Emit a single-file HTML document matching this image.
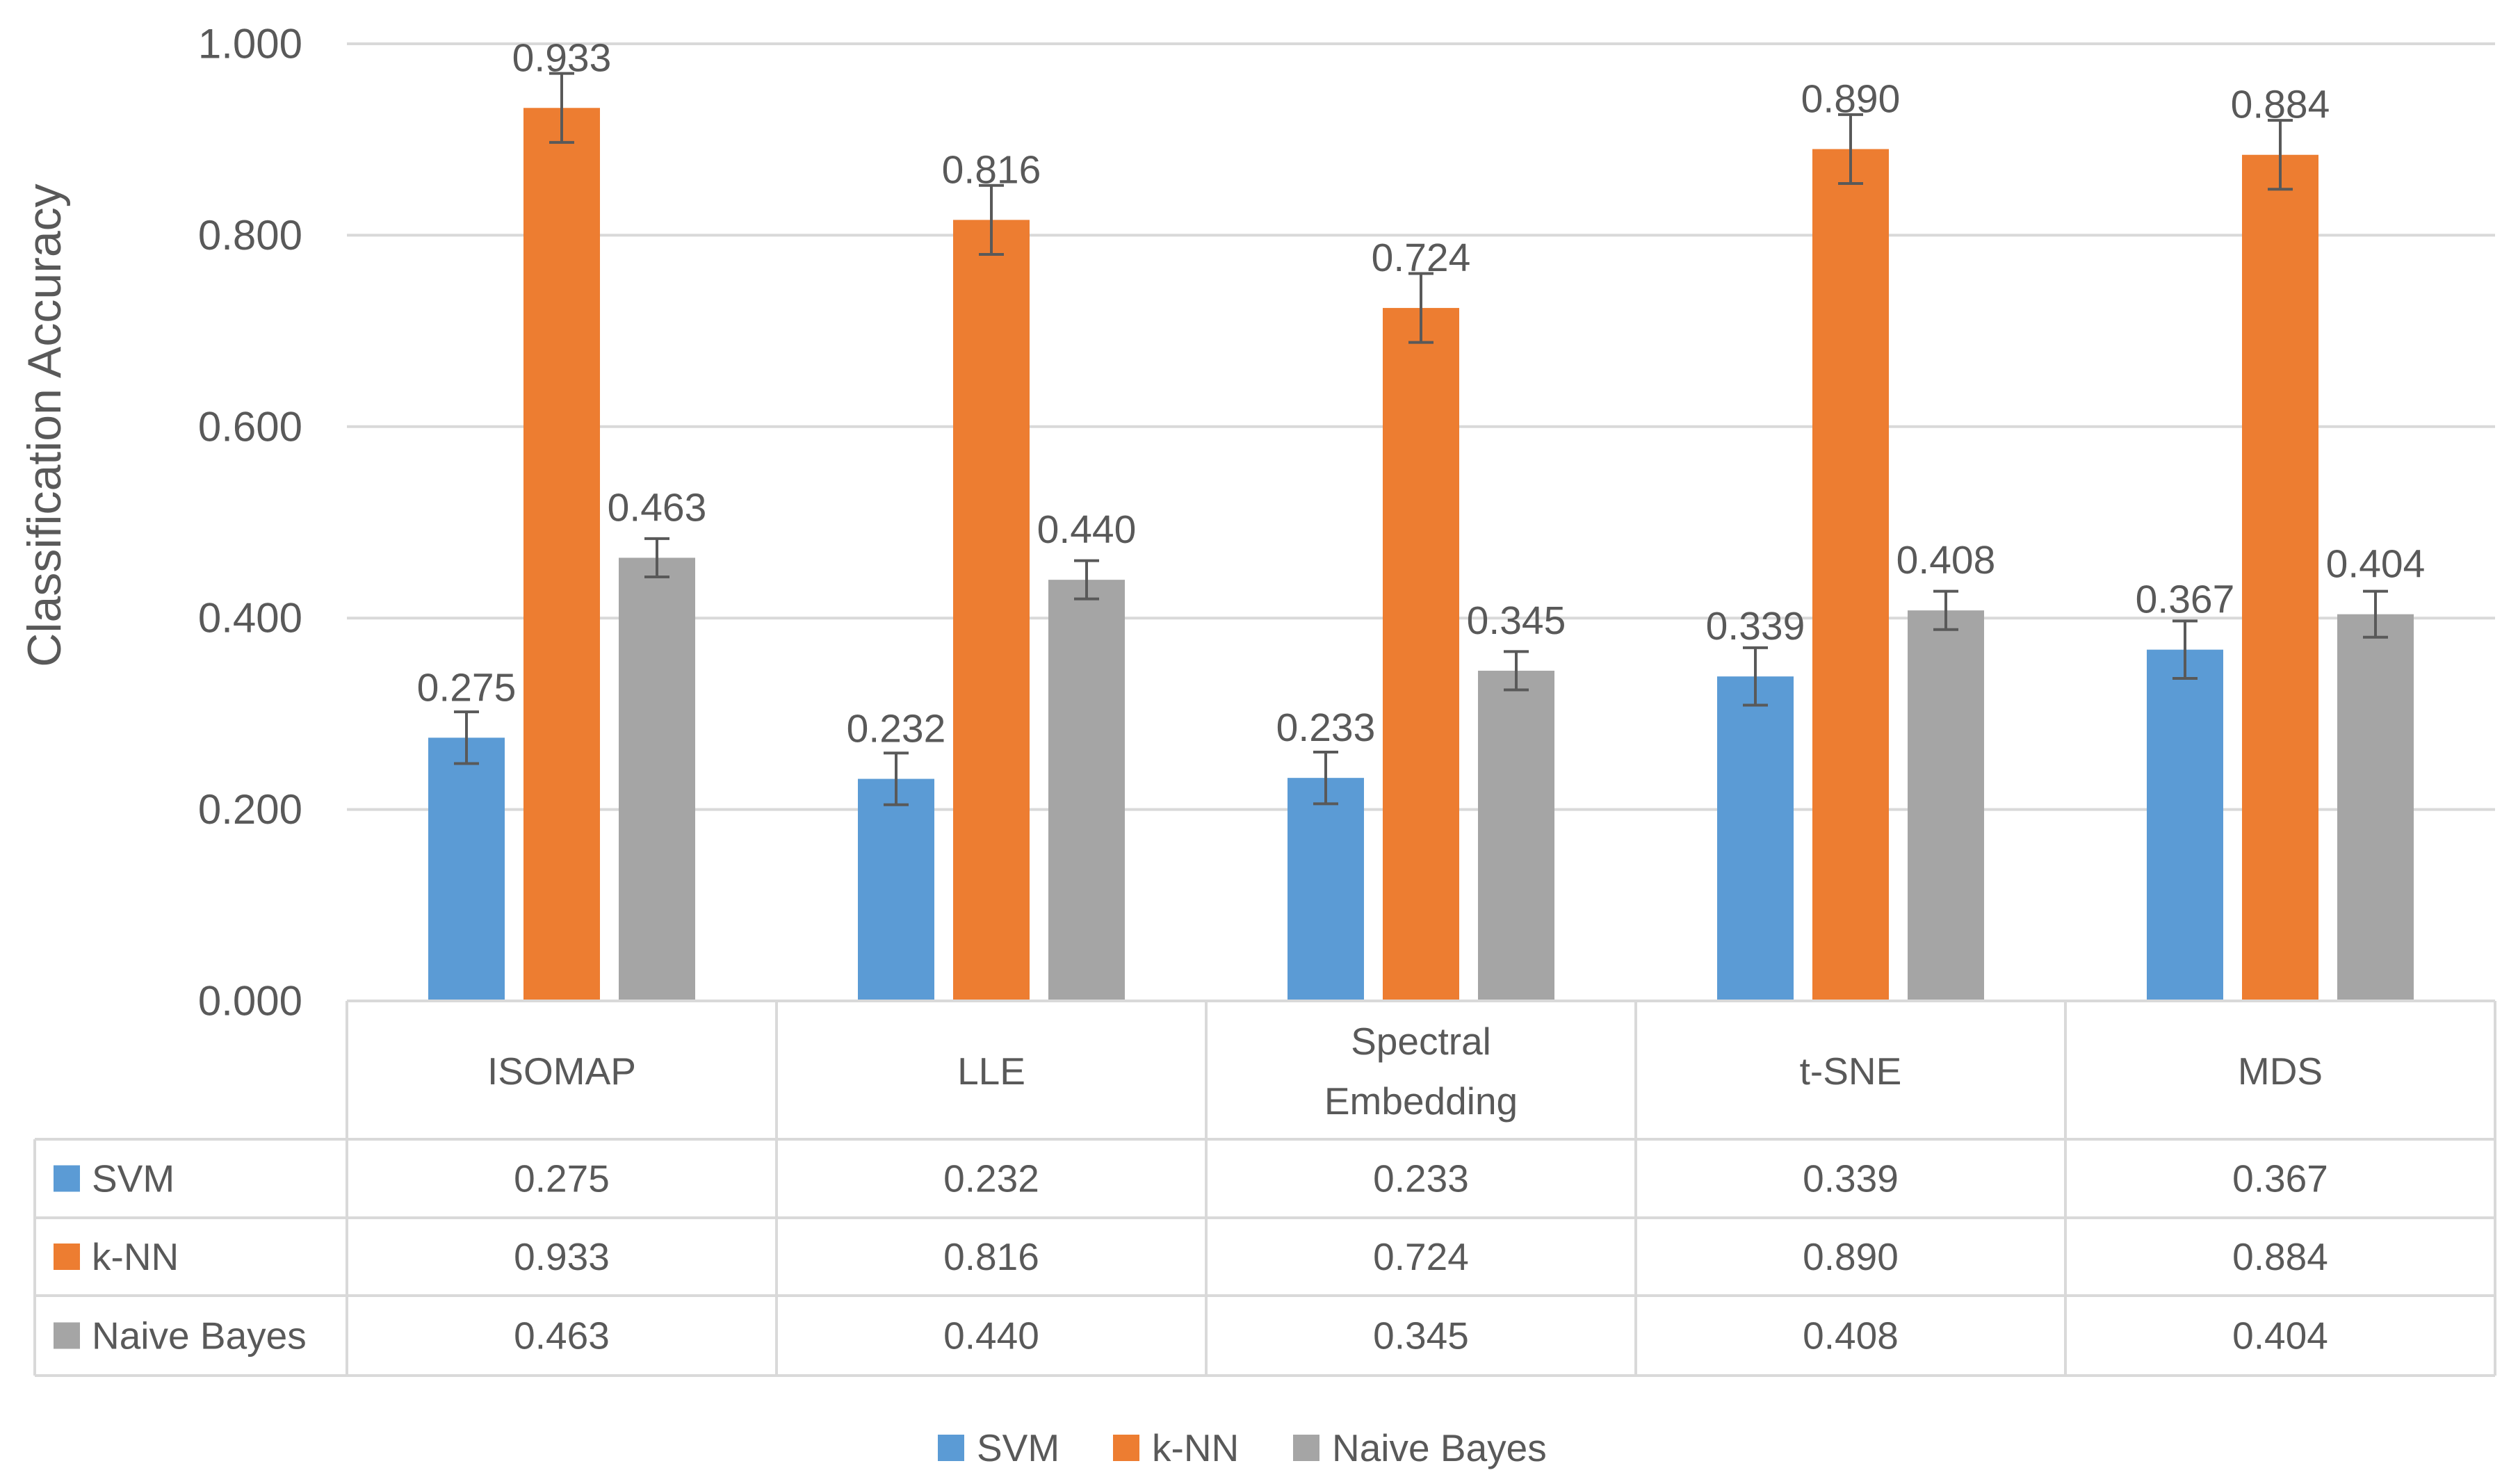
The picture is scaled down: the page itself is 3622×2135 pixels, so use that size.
<!DOCTYPE html>
<html><head><meta charset="utf-8"><style>
html,body{margin:0;padding:0;background:#fff;}
svg{display:block;font-family:"Liberation Sans",sans-serif;}
</style></head><body>
<svg id="chart" width="3622" height="2135" viewBox="0 0 3622 2135" xmlns="http://www.w3.org/2000/svg"></svg>
<script>
const categories = ["ISOMAP", "LLE", "Spectral|Embedding", "t-SNE", "MDS"];
const seriesNames = ["SVM", "k-NN", "Naive Bayes"];
const svmValues = [0.275, 0.232, 0.233, 0.339, 0.367];
const knnValues = [0.933, 0.816, 0.724, 0.890, 0.884];
const nbValues = [0.463, 0.440, 0.345, 0.408, 0.404];
const svmErrors = [0.027, 0.027, 0.027, 0.030, 0.030];
const knnErrors = [0.036, 0.036, 0.036, 0.036, 0.036];
const nbErrors = [0.020, 0.020, 0.020, 0.020, 0.024];
const yTicks = [0, 0.2, 0.4, 0.6, 0.8, 1.0];

const colors = ["#5b9bd5", "#ed7d31", "#a5a5a5"];
const values = [svmValues, knnValues, nbValues];
const errors = [svmErrors, knnErrors, nbErrors];
const NS = "http://www.w3.org/2000/svg";
const svg = document.getElementById("chart");
const plotL = 499, plotR = 3589, y0 = 1440, y1 = 63;
const catW = (plotR - plotL) / categories.length;
const yScale = v => y0 - v * (y0 - y1);
const xCat = i => plotL + i * catW;
function el(tag, attrs, parent) {
  const e = document.createElementNS(NS, tag);
  for (const k in attrs) e.setAttribute(k, attrs[k]);
  (parent || svg).appendChild(e);
  return e;
}
function txt(x, y, s, size, anchor, parent) {
  const t = el("text", {x: x, y: y, "font-size": size, fill: "#595959", "text-anchor": anchor || "middle", "dominant-baseline": "central"}, parent);
  t.textContent = s;
  return t;
}
yTicks.forEach(v => {
  if (v > 0) {
    const g = el("line", {x1: plotL, x2: plotR, y1: yScale(v), y2: yScale(v), stroke: "#d9d9d9", "stroke-width": 4});
    
    
  }
  const t = txt(435, yScale(v), v.toFixed(3), 60, "end");
  
  
});
const at = el("text", {x: 0, y: 0, "font-size": 68, fill: "#595959", "text-anchor": "middle", "dominant-baseline": "central", transform: "translate(64,612) rotate(-90)"});
at.textContent = "Classification Accuracy";


const barW = 110, gap = 27, off = 117;
categories.forEach((c, i) => {
  values.forEach((arr, s) => {
    const v = arr[i];
    const x = xCat(i) + off + s * (barW + gap);
    const b = el("rect", {x: x, y: yScale(v), width: barW, height: y0 - yScale(v), fill: colors[s]});
    
    
    const e = errors[s][i], cx = x + barW / 2;
    const eg = el("g", {stroke: "#595959", "stroke-width": 4});
    
    
    el("line", {x1: cx, x2: cx, y1: yScale(v + e), y2: yScale(v - e)}, eg);
    el("line", {x1: cx - 18, x2: cx + 18, y1: yScale(v + e), y2: yScale(v + e)}, eg);
    el("line", {x1: cx - 18, x2: cx + 18, y1: yScale(v - e), y2: yScale(v - e)}, eg);
    const l = txt(cx, yScale(v) - 72, v.toFixed(3), 57);
    
    
  });
});
const rowY = [1440, 1639, 1752, 1864, 1979];
const tg = el("g", {stroke: "#d9d9d9", "stroke-width": 4, fill: "none"});


rowY.forEach((y, r) => el("line", {x1: r === 0 ? plotL : 50, x2: plotR, y1: y, y2: y}, tg));
el("line", {x1: 50, x2: 50, y1: rowY[1], y2: rowY[4]}, tg);
for (let i = 0; i <= categories.length; i++) el("line", {x1: xCat(i), x2: xCat(i), y1: rowY[0], y2: rowY[4]}, tg);
categories.forEach((c, i) => {
  const parts = c.split("|");
  const cx = xCat(i) + catW / 2;
  parts.forEach((p, k) => {
    const t = txt(cx, 1541 + (k - (parts.length - 1) / 2) * 86, p, 55);
    
    
  });
  values.forEach((arr, s) => {
    const t = txt(cx, (rowY[s + 1] + rowY[s + 2]) / 2, arr[i].toFixed(3), 55);
    
    
  });
});
seriesNames.forEach((n, s) => {
  const cy = (rowY[s + 1] + rowY[s + 2]) / 2;
  const sq = el("rect", {x: 77, y: cy - 19, width: 38, height: 38, fill: colors[s]});
  
  
  const t = txt(132, cy, n, 55, "start");
  
  
});
const legX = [1349, 1601, 1860];
seriesNames.forEach((n, s) => {
  const g = el("g", {});
  
  
  el("rect", {x: legX[s], y: 2083 - 19, width: 38, height: 38, fill: colors[s]}, g);
  txt(legX[s] + 56, 2083, n, 55, "start", g);
});
</script>
</body></html>
